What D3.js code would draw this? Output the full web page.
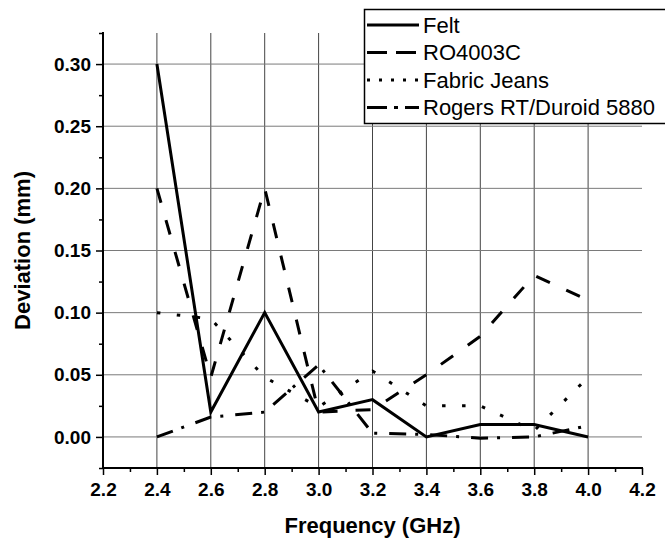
<!DOCTYPE html>
<html>
<head>
<meta charset="utf-8">
<script src="https://cdn.jsdelivr.net/npm/d3@7"></script>
<style>
  body { margin: 0; background: #fff; }
  svg { display: block; font-family: Arial, "Liberation Sans", sans-serif; }
</style>
</head>
<body>
<div id="chart"></div>
<script>
// values
const freq = [2.4, 2.6, 2.8, 3.0, 3.2, 3.4, 3.6, 3.8, 4.0];
const felt = [0.30, 0.02, 0.10, 0.02, 0.03, 0.00, 0.01, 0.01, 0.00];
const ro4003c = [0.20, 0.048, 0.20, 0.02, 0.022, 0.05, 0.081, 0.13, 0.11];
const fabricJeans = [0.10, 0.095, 0.048, 0.024, 0.053, 0.025, 0.025, 0.005, 0.048];
const rogers = [0.00, 0.016, 0.02, 0.058, 0.003, 0.002, -0.001, 0.00, 0.009];

const seriesNames = ["Felt", "RO4003C", "Fabric Jeans", "Rogers RT/Duroid 5880"];
const xTicks = [2.2, 2.4, 2.6, 2.8, 3.0, 3.2, 3.4, 3.6, 3.8, 4.0, 4.2];
const yTicks = [0.00, 0.05, 0.10, 0.15, 0.20, 0.25, 0.30];

const width = 665;
const height = 539;
const margin = { top: 33, right: 23, bottom: 71, left: 103 };

const svg = d3
  .select("#chart")
  .append("svg")
  .attr("width", width)
  .attr("height", height);

const x = d3
  .scaleLinear()
  .domain([2.2, 4.2])
  .range([margin.left, width - margin.right]);

const y = d3
  .scaleLinear()
  .domain([-0.025, 0.325])
  .range([height - margin.bottom, margin.top]);

// grid
svg
  .append("g")
  .attr("class", "grid-x")
  .selectAll("line")
  .data(xTicks.slice(1, -1))
  .enter()
  .append("line")
  .attr("x1", (d) => x(d))
  .attr("x2", (d) => x(d))
  .attr("y1", y.range()[0])
  .attr("y2", y.range()[1])
  .attr("stroke", "#444")
  .attr("stroke-width", 1);

svg
  .append("g")
  .attr("class", "grid-y")
  .selectAll("line")
  .data(yTicks)
  .enter()
  .append("line")
  .attr("x1", x.range()[0])
  .attr("x2", x.range()[1])
  .attr("y1", (d) => y(d))
  .attr("y2", (d) => y(d))
  .attr("stroke", "#7a7a7a")
  .attr("stroke-width", 1);

// series
const series = [
  { name: seriesNames[0], values: felt, dash: null, legendDash: null },
  { name: seriesNames[1], values: ro4003c, dash: "15,18", legendDash: "20,9" },
  { name: seriesNames[2], values: fabricJeans, dash: "3.5,16.5", legendDash: "3,9" },
  { name: seriesNames[3], values: rogers, dash: "17,9,3,12", legendDash: "20,7,4,7" },
];

const line = d3
  .line()
  .x((d) => x(d[0]))
  .y((d) => y(d[1]));

svg
  .append("g")
  .attr("class", "lines")
  .selectAll("path")
  .data(series)
  .enter()
  .append("path")
  .attr("d", (s) => line(freq.map((f, i) => [f, s.values[i]])))
  .attr("fill", "none")
  .attr("stroke", "#000")
  .attr("stroke-width", 3)
  .attr("stroke-dasharray", (s) => s.dash);

// axes
const xMinor = d3.range(2.3, 4.2, 0.2);
const yMinor = d3.range(-0.025, 0.33, 0.05);

svg
  .append("g")
  .attr("transform", `translate(0, ${y.range()[0]})`)
  .call(
    d3
      .axisBottom(x)
      .tickValues(xTicks)
      .tickSize(7)
      .tickPadding(8)
      .tickFormat(d3.format(".1f"))
  );

svg
  .append("g")
  .attr("transform", `translate(0, ${y.range()[0]})`)
  .call(d3.axisBottom(x).tickValues(xMinor).tickSize(4).tickFormat(""));

svg
  .append("g")
  .attr("transform", `translate(${x.range()[0]}, 0)`)
  .call(
    d3
      .axisLeft(y)
      .tickValues(yTicks)
      .tickSize(7)
      .tickPadding(5)
      .tickFormat(d3.format(".2f"))
  );

svg
  .append("g")
  .attr("transform", `translate(${x.range()[0]}, 0)`)
  .call(d3.axisLeft(y).tickValues(yMinor).tickSize(4).tickFormat(""));

// plain axis lines instead of the d3 domain paths
svg.selectAll(".domain").remove();
svg
  .append("line")
  .attr("x1", x.range()[0] - 1)
  .attr("x2", x.range()[1] + 1)
  .attr("y1", y.range()[0])
  .attr("y2", y.range()[0])
  .attr("stroke", "#000")
  .attr("stroke-width", 2);
svg
  .append("line")
  .attr("x1", x.range()[0])
  .attr("x2", x.range()[0])
  .attr("y1", y.range()[0] + 1)
  .attr("y2", y.range()[1] - 1)
  .attr("stroke", "#000")
  .attr("stroke-width", 2);

svg.selectAll(".tick line").attr("stroke-width", 1.5);
svg
  .selectAll(".tick text")
  .attr("font-size", "19px")
  .attr("font-weight", "bold")
  .attr("font-family", "Arial, 'Liberation Sans', sans-serif")
  .attr("fill", "#000");

// axis titles
svg
  .append("text")
  .attr("x", (x.range()[0] + x.range()[1]) / 2)
  .attr("y", 533)
  .attr("text-anchor", "middle")
  .attr("font-size", "22px")
  .attr("font-weight", "bold")
  .text("Frequency (GHz)");

svg
  .append("text")
  .attr("transform", `translate(30, ${(y.range()[0] + y.range()[1]) / 2}) rotate(-90)`)
  .attr("text-anchor", "middle")
  .attr("font-size", "22px")
  .attr("font-weight", "bold")
  .text("Deviation (mm)");

// legend
const legendGroup = svg.append("g").attr("id", "legend");

legendGroup
  .append("rect")
  .attr("x", 364.5)
  .attr("y", 9.5)
  .attr("width", 320)
  .attr("height", 114)
  .attr("fill", "#fff")
  .attr("stroke", "#000")
  .attr("stroke-width", 1.5);

legendGroup
  .selectAll(".legendPart")
  .data(series)
  .enter()
  .append("g")
  .attr("class", "legendPart")
  .each(function (s, i) {
    const rowY = 25 + i * 27.5;
    const part = d3.select(this);
    part
      .append("line")
      .attr("x1", 367)
      .attr("x2", 419)
      .attr("y1", rowY)
      .attr("y2", rowY)
      .attr("stroke", "#000")
      .attr("stroke-width", 3)
      .attr("stroke-dasharray", s.legendDash);
    part
      .append("text")
      .attr("x", 423)
      .attr("y", rowY)
      .attr("dy", "0.36em")
      .attr("font-size", "22px")
      .text(s.name);
  });
</script>
</body>
</html>
